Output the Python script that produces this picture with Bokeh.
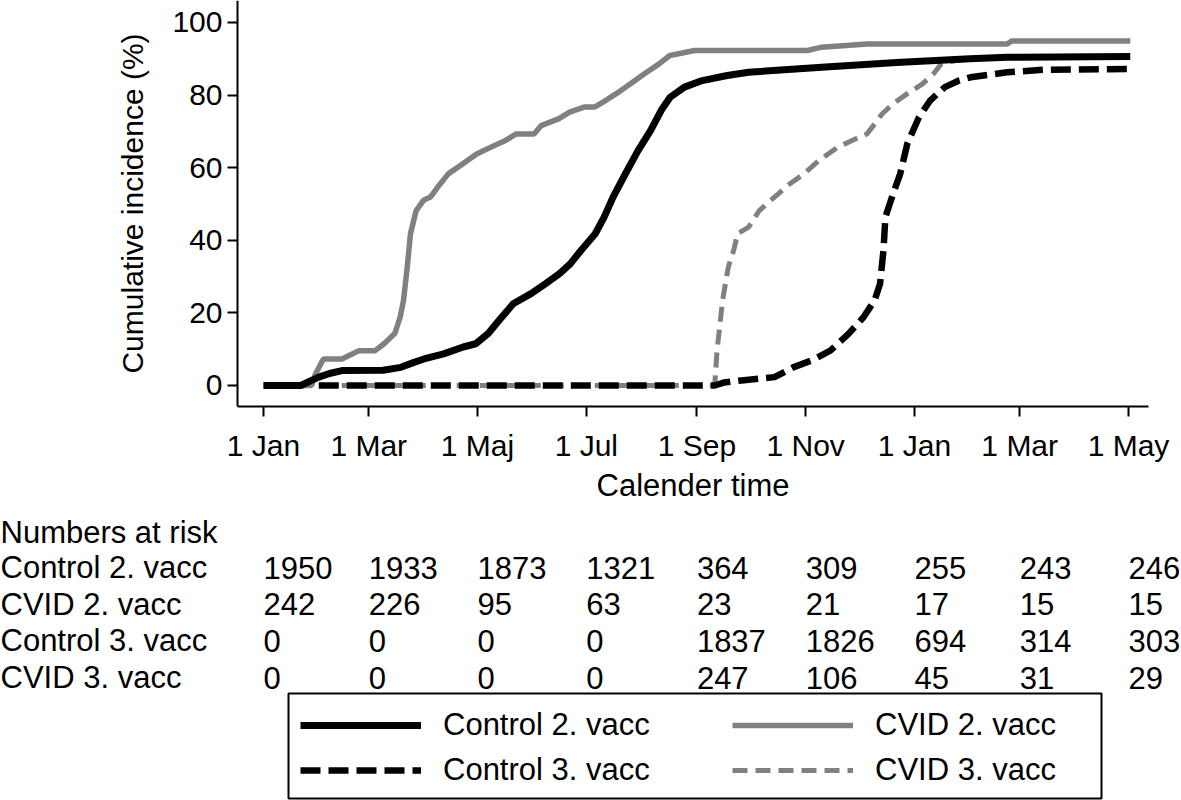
from bokeh.plotting import figure
from bokeh.models import Range1d, FixedTicker, ColumnDataSource, Legend, LegendItem, BoxAnnotation
from bokeh.layouts import column
from bokeh.embed import file_html
from bokeh.resources import INLINE
from bokeh.core.properties import value

# ---------------- data ----------------
tick_days = [0, 59, 120, 181, 243, 304, 365, 424, 485]
tick_labels = ["1 Jan", "1 Mar", "1 Maj", "1 Jul", "1 Sep", "1 Nov", "1 Jan", "1 Mar", "1 May"]
y_ticks = [0, 20, 40, 60, 80, 100]

ctrl2_day = [0, 21, 26, 31, 37, 44, 67, 77, 84, 90, 101, 112, 119, 126, 132, 140, 150, 158, 166,
             172, 178, 186, 191, 196, 203, 210, 217, 223, 228, 236, 246, 260, 272, 313, 355, 396,
             417, 486]
ctrl2_pct = [0, 0, 1.2, 2.3, 3.3, 4.1, 4.2, 5.0, 6.3, 7.3, 8.7, 10.6, 11.5, 14.3, 17.9, 22.5, 25.3,
             28.0, 30.8, 33.5, 37.2, 41.8, 46.4, 51.9, 58.4, 64.7, 70.2, 75.8, 79.4, 82.2, 84.0,
             85.4, 86.3, 87.7, 89.0, 90.0, 90.4, 90.6]

cvid2_day = [0, 27, 29, 33.6, 44, 47.7, 53.6, 62.6, 67.6, 73.6, 76.6, 78.5, 80.6, 82.4, 85.6, 89.7,
             93.6, 97.6, 103.6, 111.6, 119.5, 127.7, 135.7, 141.7, 151.7, 155.7, 165.7, 171.6,
             179.8, 185.6, 191.8, 197.8, 205.8, 213.6, 221.8, 227.8, 241.7, 305, 313, 338.5, 417,
             419.5, 486]
cvid2_pct = [0, 0, 3.0, 7.3, 7.3, 8.2, 9.6, 9.6, 11.5, 14.3, 18.8, 23.4, 32.6, 41.8, 48.2, 51.0,
             51.9, 54.6, 58.3, 61.0, 63.8, 65.7, 67.5, 69.3, 69.3, 71.6, 73.5, 75.3, 76.7, 76.7,
             78.5, 80.4, 83.1, 85.9, 88.6, 90.9, 92.3, 92.3, 93.2, 94.1, 94.1, 94.9, 94.9]

ctrl3_day = [31, 253, 258, 268, 286.5, 297, 307.4, 317.8, 328, 336.4, 342.6, 345.7, 347.6, 348.7,
             353, 357, 361, 367.5, 373.8, 382, 390, 396.5, 417, 438, 485]
ctrl3_pct = [0, 0, 0.8, 1.4, 2.3, 5.0, 6.9, 9.6, 14.2, 18.8, 23.4, 28.0, 37.2, 46.4, 52.8, 58.3,
             66.6, 73.9, 78.5, 82.2, 84.0, 84.9, 86.3, 87.0, 87.2]

cvid3_day = [31, 253, 254.3, 257.4, 260.6, 263.6, 265.8, 272, 278, 286.5, 295, 303, 311.5, 321.8,
             330, 338.3, 342.6, 346.8, 353, 361, 369.5, 375.7, 380, 388, 400, 486]
cvid3_pct = [0, 0, 9.6, 23.4, 32.6, 37.2, 41.8, 43.6, 48.2, 51.9, 55.5, 58.3, 62.0, 65.6, 67.5,
             69.3, 72.0, 74.8, 77.6, 80.4, 83.1, 85.9, 88.6, 89.5, 90.2, 90.6]

x_title = "Calender time"
y_title = "Cumulative incidence (%)"
risk_title = "Numbers at risk"
risk_rows = ["Control 2. vacc", "CVID 2. vacc", "Control 3. vacc", "CVID 3. vacc"]
risk_ctrl2 = [1950, 1933, 1873, 1321, 364, 309, 255, 243, 246]
risk_cvid2 = [242, 226, 95, 63, 23, 21, 17, 15, 15]
risk_ctrl3 = [0, 0, 0, 0, 1837, 1826, 694, 314, 303]
risk_cvid3 = [0, 0, 0, 0, 247, 106, 45, 31, 29]

# ---------------- layout / style ----------------
FONT = "Liberation Sans"
FS = "30px"
FS_T = "31px"
W = 1181
HA = 464
HB = 800 - HA
PX_PER_DAY = 1.7835
DAY0_PX = 263
XL = (0 - DAY0_PX) / PX_PER_DAY           # left edge of the page in days
XR = (W - DAY0_PX) / PX_PER_DAY           # right edge of the page in days
AX_LEFT = (237 - DAY0_PX) / PX_PER_DAY    # where the y axis sits
AX_RIGHT = (1148 - DAY0_PX) / PX_PER_DAY  # where the x axis line ends
Y0, Y1 = -5.79, 106.06
BLACK = "#000000"
GRAY = "#808080"

STYLE_C2 = dict(line_color=BLACK, line_width=7)
STYLE_C3 = dict(line_color=BLACK, line_width=6.5, line_dash="20 8")
STYLE_V2 = dict(line_color=GRAY, line_width=5.5)
STYLE_V3 = dict(line_color=GRAY, line_width=5, line_dash="15 8")

xr = Range1d(XL, XR)

p = figure(width=W, height=HA, output_backend="svg", toolbar_location=None,
           x_range=xr, y_range=Range1d(Y0, Y1),
           min_border_left=0, min_border_right=0, min_border_top=0, min_border_bottom=HA - 406)
p.outline_line_color = None
p.xgrid.visible = False
p.ygrid.visible = False
p.background_fill_color = "white"

p.line(cvid3_day, cvid3_pct, **STYLE_V3)
p.line(cvid2_day, cvid2_pct, **STYLE_V2)
p.line(ctrl3_day, ctrl3_pct, **STYLE_C3)
p.line(ctrl2_day, ctrl2_pct, **STYLE_C2)

for ax in (p.xaxis[0], p.yaxis[0]):
    ax.axis_line_color = BLACK
    ax.axis_line_width = 2
    ax.major_tick_line_color = BLACK
    ax.major_tick_line_width = 2
    ax.major_tick_in = 0
    ax.major_tick_out = 10
    ax.minor_tick_line_color = None
    ax.major_label_text_font = FONT
    ax.major_label_text_font_size = FS
    ax.major_label_text_color = BLACK
    ax.axis_label_text_font = FONT
    ax.axis_label_text_font_size = FS
    ax.axis_label_text_font_style = "normal"
    ax.axis_label_text_color = BLACK

p.xaxis.ticker = FixedTicker(ticks=tick_days)
p.xaxis.major_label_overrides = {d: l for d, l in zip(tick_days, tick_labels)}
p.xaxis.major_label_standoff = 12
p.xaxis.bounds = (AX_LEFT, AX_RIGHT)

p.yaxis.ticker = FixedTicker(ticks=y_ticks)
p.yaxis.major_label_standoff = 5
p.yaxis.axis_label = y_title
p.yaxis.axis_label_standoff = 20
p.yaxis.fixed_location = AX_LEFT

# ---------------- x title, numbers at risk + legend ----------------
q = figure(width=W, height=HB, output_backend="svg", toolbar_location=None,
           x_range=xr, y_range=Range1d(HB, 0),
           x_axis_location=None, y_axis_location=None,
           min_border_left=0, min_border_right=0, min_border_top=0, min_border_bottom=0)
q.outline_line_color = None
q.xgrid.visible = False
q.ygrid.visible = False

q.text(x=[(AX_LEFT + AX_RIGHT) / 2], y=[485 - HA], text=[x_title], text_font=value(FONT),
       text_font_size=FS_T, text_align="center", text_baseline="alphabetic", text_color=BLACK)

LABEL_X = XL
TITLE_Y = 532 - HA
ROW_Y0 = 567 - HA
ROW_DY = 36.7
all_counts = [risk_ctrl2, risk_cvid2, risk_ctrl3, risk_cvid3]

lab_x, lab_y, lab_t = [LABEL_X], [TITLE_Y], [risk_title]
for i, name in enumerate(risk_rows):
    lab_x.append(LABEL_X)
    lab_y.append(ROW_Y0 + i * ROW_DY)
    lab_t.append(name)
q.text(x=lab_x, y=lab_y, text=lab_t, text_font=value(FONT), text_font_size=FS_T,
       text_align="left", text_baseline="alphabetic", text_color=BLACK)

nx, ny, nt = [], [], []
for i, counts in enumerate(all_counts):
    for d, c in zip(tick_days, counts):
        nx.append(d)
        ny.append(ROW_Y0 + i * ROW_DY)
        nt.append(str(c))
q.text(x=nx, y=ny, text=nt, text_font=value(FONT), text_font_size=FS_T,
       text_align="left", text_baseline="alphabetic", text_color=BLACK)

# legend proxies (kept outside the visible ranges; they only feed the legend)
proxy = dict(x=[XL - 60, XL - 50], y=[-100, -100])
r_c2 = q.line(x="x", y="y", source=ColumnDataSource(proxy), **STYLE_C2)
r_c3 = q.line(x="x", y="y", source=ColumnDataSource(proxy), **STYLE_C3)
r_v2 = q.line(x="x", y="y", source=ColumnDataSource(proxy), **STYLE_V2)
r_v3 = q.line(x="x", y="y", source=ColumnDataSource(proxy), **STYLE_V3)

box = BoxAnnotation(left=(288 - DAY0_PX) / PX_PER_DAY, right=(1101 - DAY0_PX) / PX_PER_DAY,
                    top=693 - HA, bottom=HB - 2, fill_alpha=0,
                    line_color=BLACK, line_alpha=1, line_width=2)
q.add_layout(box)


def make_legend(items, loc):
    return Legend(items=items, location=loc, orientation="vertical",
                  label_text_font=FONT, label_text_font_size=FS_T, label_text_color=BLACK,
                  glyph_width=121, glyph_height=40, label_height=40, label_standoff=22,
                  spacing=5, padding=0, margin=0,
                  border_line_alpha=0, background_fill_alpha=0)


leg_bottom = HB - (770 + 20 - HA)
leg1 = make_legend([LegendItem(label="Control 2. vacc", renderers=[r_c2]),
                    LegendItem(label="Control 3. vacc", renderers=[r_c3])], (300, leg_bottom))
leg2 = make_legend([LegendItem(label="CVID 2. vacc", renderers=[r_v2]),
                    LegendItem(label="CVID 3. vacc", renderers=[r_v3])], (732, leg_bottom))
q.add_layout(leg1)
q.add_layout(leg2)

layout = column(p, q, spacing=0)
open("out.html", "w").write(file_html(layout, INLINE))
